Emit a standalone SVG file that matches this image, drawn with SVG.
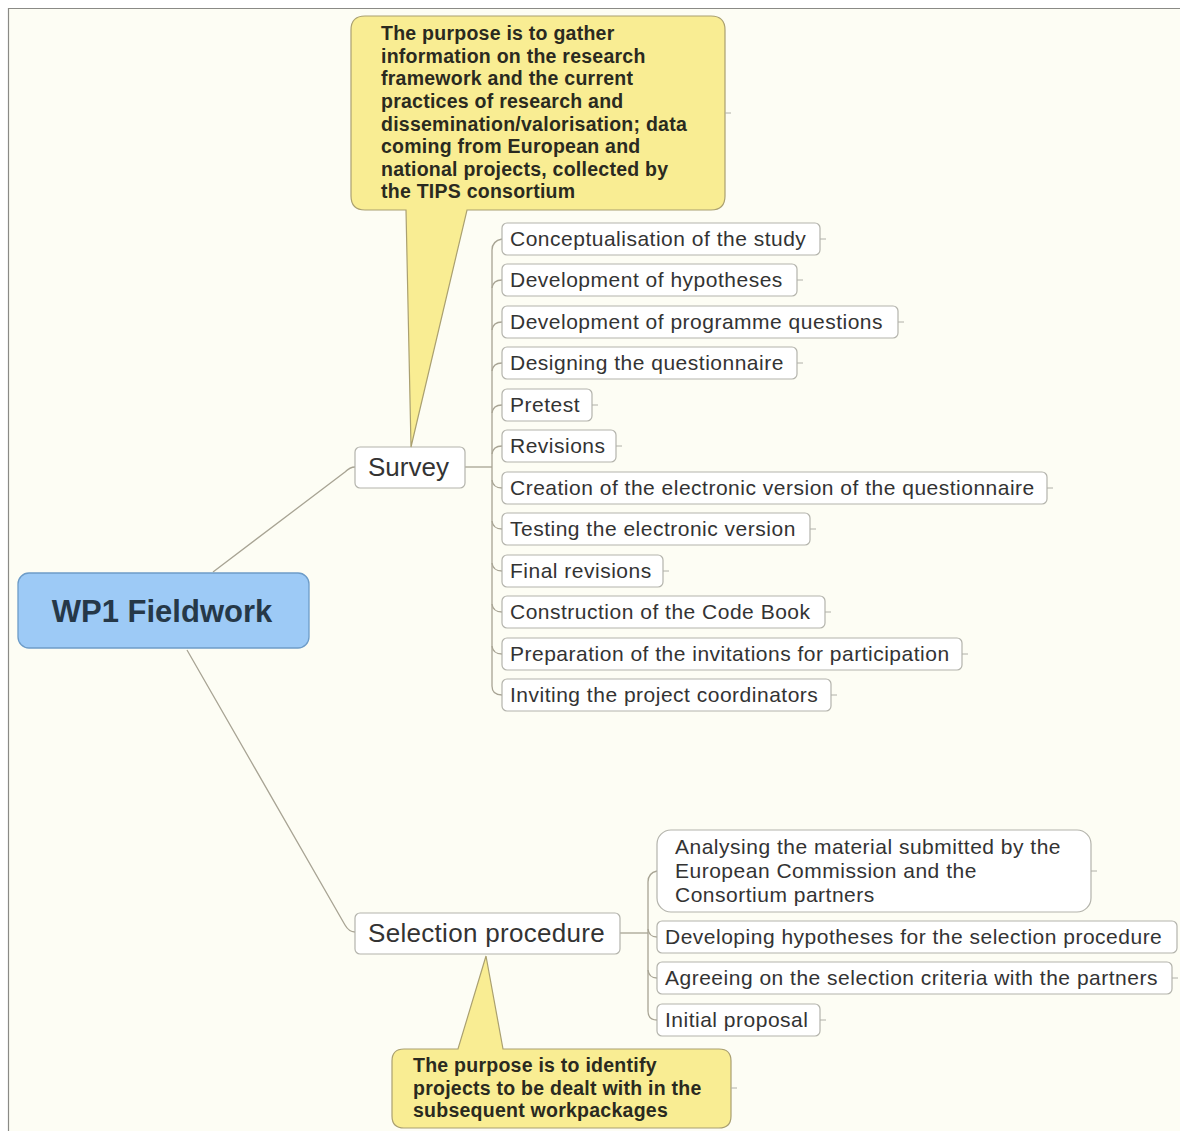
<svg xmlns="http://www.w3.org/2000/svg" width="1180" height="1131" viewBox="0 0 1180 1131">
<style>
.bg{fill:#fdfdf4}
.box{fill:#ffffff;stroke:#b4b4ac;stroke-width:1.2}
.t{font-family:"Liberation Sans",Arial,sans-serif;font-size:21px;letter-spacing:0.5px;fill:#333333}
.tm{font-family:"Liberation Sans",Arial,sans-serif;font-size:26px;fill:#333333}
.note{fill:#f9ed93;stroke:#aaa070;stroke-width:1.2}
.nt{font-family:"Liberation Sans",Arial,sans-serif;font-size:19.5px;letter-spacing:0.25px;font-weight:bold;fill:#2a2a20}
.ln{fill:none;stroke:#a8a494;stroke-width:1.3}
.tick{fill:none;stroke:#b0b0a8;stroke-width:1}
</style>
<rect x="0" y="0" width="1180" height="1131" fill="#ffffff"/>
<rect class="bg" x="8" y="8" width="1172" height="1123"/>
<line x1="8" y1="8.5" x2="1180" y2="8.5" stroke="#8a8a86" stroke-width="1.2"/>
<line x1="8.5" y1="8" x2="8.5" y2="1131" stroke="#8a8a86" stroke-width="1.2"/>

<g id="connectors">
<path class="ln" d="M213,572 L345,472 Q350,467 355,467"/>
<path class="ln" d="M187,650 L345,925 Q349,932 355,932"/>
<path class="ln" d="M465,467 L492,467"/>
<path class="ln" d="M502,239 Q492,241 492,250 L492,686 Q492,695 502,695"/>
<path class="ln" d="M492,288 Q493,280 502,280"/>
<path class="ln" d="M492,330 Q493,322 502,322"/>
<path class="ln" d="M492,371 Q493,363 502,363"/>
<path class="ln" d="M492,413 Q493,405 502,405"/>
<path class="ln" d="M492,454 Q493,446 502,446"/>
<path class="ln" d="M492,480 Q493,488 502,488"/>
<path class="ln" d="M492,521 Q493,529 502,529"/>
<path class="ln" d="M492,563 Q493,571 502,571"/>
<path class="ln" d="M492,604 Q493,612 502,612"/>
<path class="ln" d="M492,646 Q493,654 502,654"/>
<path class="ln" d="M620,933 L648,933"/>
<path class="ln" d="M657,871 Q648,873 648,882 L648,1011 Q648,1020 657,1020"/>
<path class="ln" d="M648,929 Q649,937 657,937"/>
<path class="ln" d="M648,970 Q649,978 657,978"/>
</g>

<g id="root">
<rect x="18" y="573" width="291" height="75" rx="11" fill="#9dcaf6" stroke="#6d9cc8" stroke-width="1.3"/>
<text x="162" y="622" text-anchor="middle" font-family="Liberation Sans,Arial,sans-serif" font-size="31px" font-weight="bold" fill="#263848">WP1 Fieldwork</text>
</g>

<g id="survey">
<rect class="box" x="355" y="447" width="110" height="41" rx="5"/>
<text class="tm" x="368" y="476">Survey</text>
</g>

<g id="note1">
<path class="note" d="M365,16 L711,16 Q725,16 725,30 L725,196 Q725,210 711,210 L467,210 L411,447 L406,210 L365,210 Q351,210 351,196 L351,30 Q351,16 365,16 Z"/>
<line class="tick" x1="725" y1="113" x2="731" y2="113"/>
<text class="nt" x="381" y="40">The purpose is to gather</text>
<text class="nt" x="381" y="63">information on the research</text>
<text class="nt" x="381" y="85">framework and the current</text>
<text class="nt" x="381" y="108">practices of research and</text>
<text class="nt" x="381" y="131">dissemination/valorisation; data</text>
<text class="nt" x="381" y="153">coming from European and</text>
<text class="nt" x="381" y="176">national projects, collected by</text>
<text class="nt" x="381" y="198">the TIPS consortium</text>
</g>

<g id="c1"><rect class="box" x="502" y="223" width="318" height="32" rx="5"/><line class="tick" x1="820" y1="239" x2="826" y2="239"/><text class="t" x="510" y="246">Conceptualisation of the study</text></g>
<g id="c2"><rect class="box" x="502" y="264" width="295" height="32" rx="5"/><line class="tick" x1="797" y1="280" x2="803" y2="280"/><text class="t" x="510" y="287">Development of hypotheses</text></g>
<g id="c3"><rect class="box" x="502" y="306" width="396" height="32" rx="5"/><line class="tick" x1="898" y1="322" x2="904" y2="322"/><text class="t" x="510" y="329">Development of programme questions</text></g>
<g id="c4"><rect class="box" x="502" y="347" width="295" height="32" rx="5"/><line class="tick" x1="797" y1="363" x2="803" y2="363"/><text class="t" x="510" y="370">Designing the questionnaire</text></g>
<g id="c5"><rect class="box" x="502" y="389" width="90" height="32" rx="5"/><line class="tick" x1="592" y1="405" x2="598" y2="405"/><text class="t" x="510" y="412">Pretest</text></g>
<g id="c6"><rect class="box" x="502" y="430" width="114" height="32" rx="5"/><line class="tick" x1="616" y1="446" x2="622" y2="446"/><text class="t" x="510" y="453">Revisions</text></g>
<g id="c7"><rect class="box" x="502" y="472" width="545" height="32" rx="5"/><line class="tick" x1="1047" y1="488" x2="1053" y2="488"/><text class="t" x="510" y="495">Creation of the electronic version of the questionnaire</text></g>
<g id="c8"><rect class="box" x="502" y="513" width="308" height="32" rx="5"/><line class="tick" x1="810" y1="529" x2="816" y2="529"/><text class="t" x="510" y="536">Testing the electronic version</text></g>
<g id="c9"><rect class="box" x="502" y="555" width="161" height="32" rx="5"/><line class="tick" x1="663" y1="571" x2="669" y2="571"/><text class="t" x="510" y="578">Final revisions</text></g>
<g id="c10"><rect class="box" x="502" y="596" width="323" height="32" rx="5"/><line class="tick" x1="825" y1="612" x2="831" y2="612"/><text class="t" x="510" y="619">Construction of the Code Book</text></g>
<g id="c11"><rect class="box" x="502" y="638" width="460" height="32" rx="5"/><line class="tick" x1="962" y1="654" x2="968" y2="654"/><text class="t" x="510" y="661">Preparation of the invitations for participation</text></g>
<g id="c12"><rect class="box" x="502" y="679" width="329" height="32" rx="5"/><line class="tick" x1="831" y1="695" x2="837" y2="695"/><text class="t" x="510" y="702">Inviting the project coordinators</text></g>

<g id="selection">
<rect class="box" x="355" y="913" width="265" height="41" rx="5"/>
<text class="tm" x="368" y="942" letter-spacing="0.3">Selection procedure</text>
</g>

<g id="note2">
<path class="note" d="M404,1049 L458,1049 L486,956 L503,1049 L719,1049 Q731,1049 731,1061 L731,1116 Q731,1128 719,1128 L404,1128 Q392,1128 392,1116 L392,1061 Q392,1049 404,1049 Z"/>
<line class="tick" x1="731" y1="1088" x2="737" y2="1088"/>
<text class="nt" x="413" y="1072">The purpose is to identify</text>
<text class="nt" x="413" y="1095">projects to be dealt with in the</text>
<text class="nt" x="413" y="1117">subsequent workpackages</text>
</g>

<g id="s1"><rect class="box" x="657" y="830" width="434" height="82" rx="14"/><line class="tick" x1="1091" y1="871" x2="1097" y2="871"/>
<text class="t" x="675" y="854">Analysing the material submitted by the</text>
<text class="t" x="675" y="878">European Commission and the</text>
<text class="t" x="675" y="902">Consortium partners</text></g>
<g id="s2"><rect class="box" x="657" y="921" width="520" height="32" rx="5"/><text class="t" x="665" y="944">Developing hypotheses for the selection procedure</text></g>
<g id="s3"><rect class="box" x="657" y="962" width="515" height="32" rx="5"/><line class="tick" x1="1172" y1="978" x2="1178" y2="978"/><text class="t" x="665" y="985">Agreeing on the selection criteria with the partners</text></g>
<g id="s4"><rect class="box" x="657" y="1004" width="163" height="32" rx="5"/><line class="tick" x1="820" y1="1020" x2="826" y2="1020"/><text class="t" x="665" y="1027">Initial proposal</text></g>
</svg>
